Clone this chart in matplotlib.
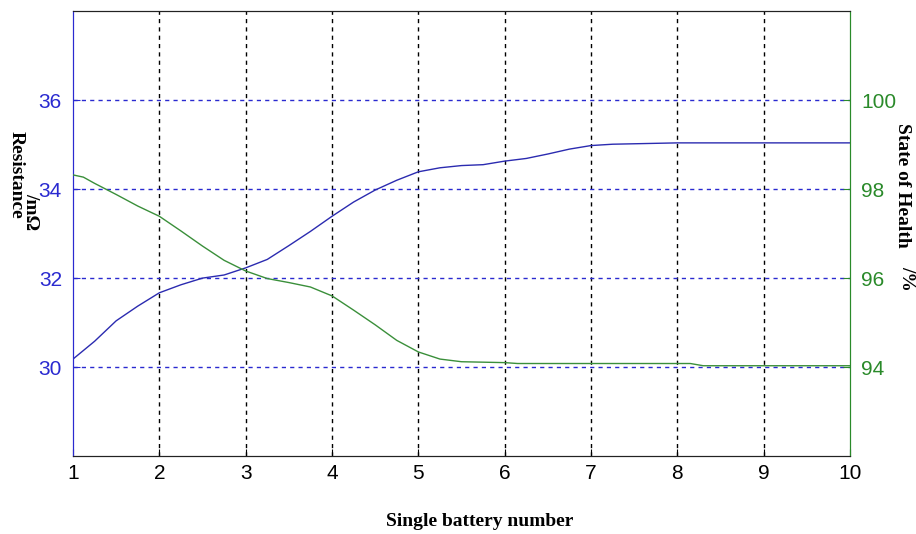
import matplotlib
matplotlib.use("Agg")
import matplotlib.pyplot as plt

# battery index (x) and readings taken from the curves
res_x = [1, 1.25, 1.5, 1.75, 2, 2.25, 2.5, 2.75, 3, 3.25, 3.5, 3.75, 4, 4.25, 4.5,
         4.75, 5, 5.25, 5.5, 5.75, 6, 6.25, 6.5, 6.75, 7, 7.25, 7.5, 8, 10]
resistance = [30.18, 30.58, 31.04, 31.37, 31.67, 31.85, 32.0, 32.07, 32.23, 32.42,
              32.73, 33.05, 33.39, 33.71, 33.98, 34.2, 34.39, 34.48, 34.53, 34.55,
              34.63, 34.69, 34.79, 34.9, 34.98, 35.01, 35.02, 35.04, 35.04]

soh_x = [1, 1.12, 1.25, 1.5, 1.75, 2, 2.25, 2.5, 2.75, 3, 3.25, 3.5, 3.75, 4, 4.25,
         4.5, 4.75, 5, 5.25, 5.5, 6, 6.15, 8.15, 8.3, 10]
soh = [98.32, 98.27, 98.13, 97.88, 97.62, 97.39, 97.06, 96.72, 96.40, 96.16, 95.99,
       95.9, 95.8, 95.6, 95.28, 94.95, 94.6, 94.34, 94.18, 94.12, 94.10, 94.08,
       94.08, 94.03, 94.03]

x_ticks = [1, 2, 3, 4, 5, 6, 7, 8, 9, 10]
res_ticks = [30, 32, 34, 36]
soh_ticks = [94, 96, 98, 100]

blue = '#2a2ad0'
blue_line = '#2b2bb0'
green = '#2a8a2a'
green_line = '#3a8f3a'

plt.rcParams['font.family'] = ['Liberation Sans', 'DejaVu Sans']

fig = plt.figure(figsize=(9.16, 5.34), dpi=100)
ax = fig.add_axes([0.0797, 0.146, 0.8483, 0.833])
ax2 = ax.twinx()

ax.plot(res_x, resistance, color=blue_line, lw=1.0, zorder=3)
ax2.plot(soh_x, soh, color=green_line, lw=1.0, zorder=3)

ax.set_xlim(1, 10)
ax.set_ylim(28, 38)
ax2.set_ylim(92, 102)
ax.set_xticks(x_ticks)
ax.set_yticks(res_ticks)
ax2.set_yticks(soh_ticks)

# grid: vertical black, horizontal blue, both dashed
for xv in x_ticks[1:-1]:
    ax.axvline(xv, color='black', lw=1.0, ls=(0, (3, 3)), zorder=1)
for yv in res_ticks:
    ax.axhline(yv, color=blue, lw=1.0, ls=(0, (3, 3)), zorder=1)

ax.tick_params(axis='x', direction='in', length=5, labelsize=15, pad=6, colors='black')
ax.tick_params(axis='y', direction='in', length=5, labelsize=15, pad=8, colors=blue)
ax2.tick_params(axis='y', direction='in', length=5, labelsize=15, pad=8, colors=green)

ax.spines['left'].set_color(blue)
ax2.spines['left'].set_color(blue)
ax2.spines['right'].set_color(green)
ax.spines['right'].set_color(green)
for a in (ax, ax2):
    a.spines['top'].set_color('#222222')
    a.spines['bottom'].set_color('#222222')

serif = dict(family=['Liberation Serif', 'DejaVu Serif'], fontweight='bold', fontsize=14)
fig.text(480 / 916, 1 - 522 / 534, 'Single battery number', ha='center', va='center', **serif)
fig.text(16 / 916, 1 - 175 / 534, 'Resistance', rotation=-90, ha='center', va='center', **serif)
fig.text(31 / 916, 1 - 212 / 534, '/m\u03a9', rotation=-90, ha='center', va='center', **serif)
fig.text(903 / 916, 1 - 185 / 534, 'State of Health', rotation=-90, ha='center', va='center', **serif)
fig.text(907 / 916, 1 - 278 / 534, '/%', rotation=-90, ha='center', va='center', **serif)

fig.savefig('out.png', dpi=100)
